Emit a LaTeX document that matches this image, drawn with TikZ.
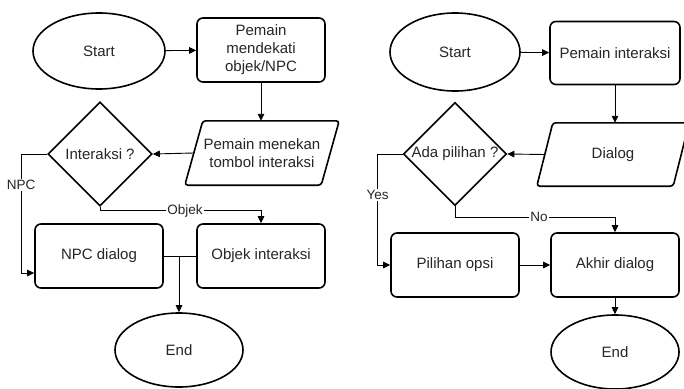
\documentclass[tikz,border=0pt]{standalone}
\usepackage{fontspec}
\setmainfont{Liberation Sans}
\usetikzlibrary{shapes.geometric,arrows.meta}
\begin{document}
\begin{tikzpicture}[x=1pt,y=-1pt,
  every node/.style={text=black!85},
  box/.style={draw, line width=1.6pt, rounded corners=6pt, align=center,
    minimum width=128pt, minimum height=64pt, inner sep=0pt,
    font=\fontsize{15}{18}\selectfont},
  oval/.style={draw, ellipse, line width=1.6pt, minimum width=130pt,
    minimum height=78pt, inner sep=0pt, font=\fontsize{15}{18}\selectfont},
  dia/.style={draw, diamond, line width=1.6pt, minimum width=104pt,
    minimum height=104pt, inner sep=0pt, font=\fontsize{15}{18}\selectfont},
  para/.style={align=center, minimum width=136pt, minimum height=64pt,
    inner sep=0pt, font=\fontsize{15}{18}\selectfont},
  paraline/.style={line width=1.6pt, rounded corners=3pt},
  conn/.style={line width=0.9pt, -{Triangle[length=7pt,width=6.5pt]}},
  plain/.style={line width=0.9pt},
  lbl/.style={fill=white, inner sep=1pt, font=\fontsize{13.5}{15}\selectfont}]
\fill[white] (0,0) rectangle (684,388);
\useasboundingbox (0,0) rectangle (684,388);

% ---------- left flowchart ----------
\node[oval, minimum width=132pt, minimum height=76pt] (s1) at (99,51) {Start};
\node[box] (b1) at (261,50) {Pemain\\mendekati\\objek/NPC};
\node[para] (p1) at (262,153) {Pemain menekan\\tombol interaksi};
\draw[paraline] ([xshift=9pt]p1.north west) -- ([xshift=9pt]p1.north east)
  -- ([xshift=-9pt]p1.south east) -- ([xshift=-9pt]p1.south west) -- cycle;
\node[dia] (d1) at (100,154) {Interaksi ?};
\node[box] (n1) at (99,256) {NPC dialog};
\node[box] (o1) at (261,256) {Objek interaksi};
\node[oval, minimum width=128pt, minimum height=74pt] (e1) at (179,350) {End};

\draw[conn] (s1) -- (b1);
\draw[conn] (b1.south) -- (b1.south |- p1.north);
\draw[conn] (p1.west) -- (d1.east);
\draw[conn] (d1.west) -- ++(-26,0) |- node[lbl, pos=0.13] {NPC} ([yshift=-17pt]n1.west);
\draw[conn] (d1.south) -- ++(0,4) -| node[lbl, pos=0.264] {Objek} (o1.north);
\draw[plain] (n1.east) -- (o1.west);
\draw[conn] (e1.north |- n1.east) -- (e1.north);

% ---------- right flowchart ----------
\node[oval] (s2) at (455,52) {Start};
\node[box, minimum width=130pt, minimum height=63pt] (b2) at (615,53) {Pemain interaksi};
\node[para, minimum height=63pt] (p2) at (613,154.5) {Dialog};
\draw[paraline] ([xshift=8pt]p2.north west) -- ([xshift=8pt]p2.north east)
  -- ([xshift=-8pt]p2.south east) -- ([xshift=-8pt]p2.south west) -- cycle;
\node[dia, minimum width=103pt, minimum height=103pt] (d2) at (455,154) {Ada pilihan ?};
\node[box] (c2) at (455,265) {Pilihan opsi};
\node[box] (a2) at (615,265) {Akhir dialog};
\node[oval, minimum width=128pt, minimum height=74pt] (e2) at (615,352) {End};

\draw[conn] (s2) -- (b2);
\draw[conn] (b2.south) -- (b2.south |- p2.north);
\draw[conn] (p2.west) -- (d2.east);
\draw[conn] (d2.west) -- ++(-25,0) |- node[lbl, pos=0.185] {Yes} (c2.west);
\draw[conn] (d2.south) -- ++(0,11) -| node[lbl, pos=0.2625] {No} (a2.north);
\draw[conn] (c2) -- (a2);
\draw[conn] (a2) -- (e2);
\end{tikzpicture}
\end{document}
